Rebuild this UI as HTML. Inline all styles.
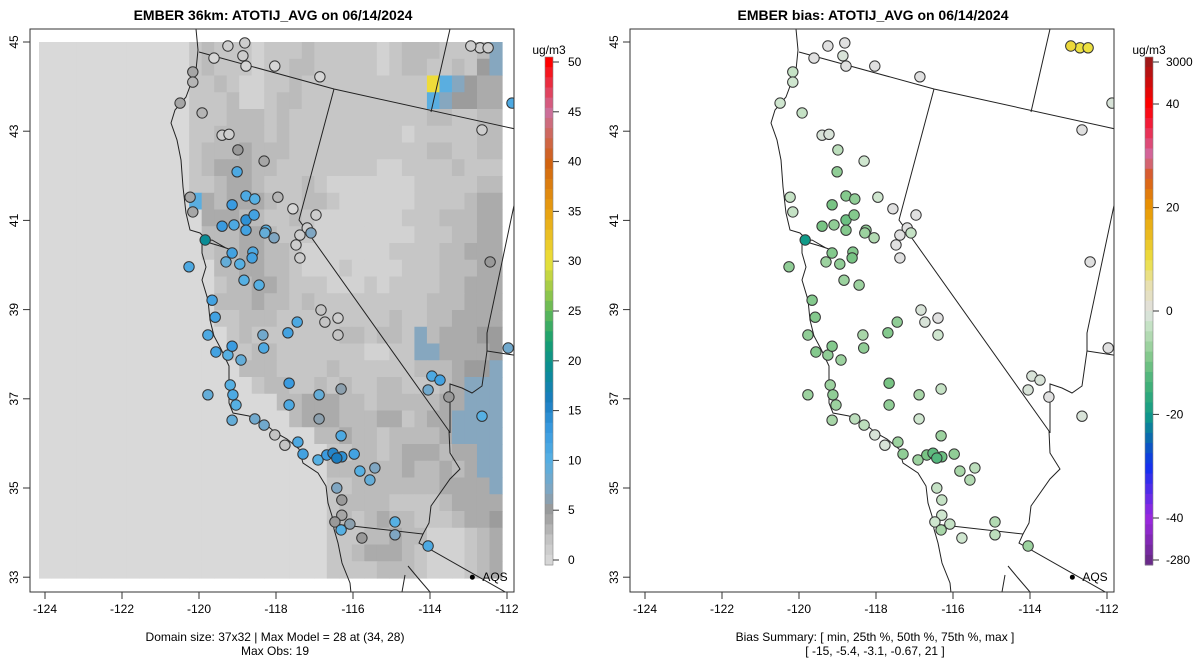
<!DOCTYPE html>
<html><head><meta charset="utf-8"><style>
body{margin:0;background:#fff;}
svg{display:block;font-family:"Liberation Sans",sans-serif;}
</style></head><body>
<svg id="chart" width="1200" height="672" viewBox="0 0 1200 672">
<defs>
<clipPath id="clipL"><rect x="30" y="29" width="484" height="563"/></clipPath>
</defs>
<g id="panelL"></g>
<g id="panelR"></g>
</svg>
<script>
// ---- data ----
const gridRows = [
"aaaaaaaaaaaacdcccbcccdcccccbcdddcccdgged",
"aaaaaaaaaaaacdcccbccddcccccbcddccdcfgfee",
"aaaaaaaaaaaaccdcbbccdccccccccccyhgfee",
"aaaaaaaaaaaacccdbbcddcccccccccchgffee",
"aaaaaaaaaaaacccdddcdcccccccccccddccd",
"aaaaaaaaaaaaccddddcdcccccccccbcccccd",
"aaaaaaaaaaaacdddedddcccccccccccddccd",
"aaaaaaaaaaaacdeeeddccccccccbbccccdcc",
"aaaaaaaaaaaaccdeedcccdcbbbbbbbcccccd",
"aaaaaaaaaaaahedeeedccddcbbbbbbccccdee",
"aaaaaaaaaaaaaeeeddccdcbbbbbbbcccdddee",
"aaaaaaaaaaaaadddeedcccbbbbbbbbcccddee",
"aaaaaaaaaaaaacddeeddcbbbbbbbccccddeee",
"aaaaaaaaaaaaaaddeeddcbbbcbbbbcccdddeee",
"aaaaaaaaaaaaaacddeedcccbbbcbccccddeee",
"aaaaaaaaaaaaaadddeddcdcccccccccdddeee",
"aaaaaaaaaaaaaaccdddcccccccccdccddeee",
"aaaaaaaaaaaaaaacdcccccccddcddcgdeeeffe",
"aaaaaaaaaaaaaaaccddcccccccbbccggeeeeff",
"aaaaaaaaaaaaaaaadddccccdccccccdddeffgff",
"aaaaaaaaaaaaaaaaacddccdcdccddcccdeggggf",
"aaaaaaaaaaaaaaaaaaaddeeeddcdddddeegggggf",
"aaaaaaaaaaaaaaaaaaaadeeedddeecdeeggggggf",
"aaaaaaaaaaaaaaaaaaaaaaddeddcddddeggggggf",
"aaaaaaaaaaaaaaaaaaaaaaaccddcdeeedeeggggg",
"aaaaaaaaaaaaaaaaaaaaaaaddddddeddedeggggf",
"aaaaaaaaaaaaaaaaaaaaaaaccdddddddeeeegggf",
"aaaaaaaaaaaaaaaaaaaaaaacddddccccdeeeefff",
"aaaaaaaaaaaaaaaaaaaaaaacdcdeddcccdeeffff",
"aaaaaaaaaaaaaaaaaaaaaaacccddeddbbbcdeeff",
"aaaaaaaaaaaaaaaaaaaaaaaccdeeedcbbbcdeeff",
"aaaaaaaaaaaaaaaaaaaaaaaccccdddcbbbcdefff"
];
const gridLevels = {a:"#d9d9d9",b:"#d2d2d2",c:"#c6c6c6",d:"#bbbbbb",e:"#ababab",f:"#9c9c9c",g:"#86a7bf",h:"#5aaee0",y:"#eedc3a"};

const siteLon = [-119.25,-118.81,-119.61,-118.86,-118.78,-118.03,-116.86,-120.16,-120.16,-119.92,-120.49,-119.40,-119.22,-118.99,-119.01,-118.31,-120.23,-120.16,-118.78,-118.55,-119.14,-118.78,-118.78,-119.40,-119.09,-117.95,-117.56,-118.26,-118.60,-118.62,-118.94,-118.83,-118.44,-118.29,-118.05,-119.14,-119.30,-118.57,-117.38,-117.48,-117.38,-117.19,-117.09,-116.96,-120.26,-119.84,-119.58,-119.66,-119.77,-119.56,-119.25,-118.91,-118.34,-118.32,-117.45,-117.69,-116.73,-116.83,-116.39,-116.39,-119.14,-119.19,-119.12,-119.77,-119.04,-119.14,-117.66,-117.66,-116.88,-116.31,-116.88,-118.55,-118.31,-118.03,-117.77,-117.43,-117.30,-116.91,-116.68,-116.52,-116.29,-116.42,-115.97,-116.31,-115.82,-115.56,-115.43,-116.42,-116.29,-116.29,-116.47,-116.08,-116.31,-115.77,-114.91,-114.91,-114.05,-113.95,-113.74,-114.05,-113.51,-112.44,-111.97,-111.87,-112.65,-112.70,-112.49,-112.94,-112.65];
const siteLat = [44.91,44.98,44.64,44.69,44.46,44.46,44.22,44.33,44.10,43.41,43.63,42.91,42.93,42.58,42.09,42.33,41.52,41.19,41.55,41.48,41.35,41.01,40.78,40.87,40.90,41.52,41.26,40.78,40.29,40.16,40.02,39.66,39.55,40.72,40.61,40.27,40.07,41.12,40.67,40.45,40.16,40.83,40.72,41.12,39.96,40.56,38.83,39.21,38.43,38.05,37.98,37.87,38.43,38.14,38.72,38.48,38.72,38.99,38.81,38.43,38.18,37.31,37.09,37.09,36.86,36.52,37.35,36.86,37.09,37.22,36.55,36.55,36.41,36.19,35.96,36.03,35.76,35.63,35.74,35.78,35.70,35.67,35.76,36.17,35.38,35.18,35.45,35.00,34.39,34.73,34.24,34.19,34.06,33.88,34.24,33.95,33.70,37.51,37.42,37.20,37.04,40.07,38.14,43.63,43.03,44.87,44.87,44.91,36.61];
const siteObs = [1,1,0,1,0,0,0,4,3,3,4,1,1,5,11,4,4,4,11,10,13,14,12,13,11,3,0,10,11,12,10,10,10,9,7,12,9,12,1,1,1,1,7,1,11,19,12,12,11,12,10,9,8,11,11,12,2,2,1,2,13,10,11,9,10,9,13,11,9,6,6,8,8,2,2,11,12,10,13,15,14,16,12,11,10,9,7,7,4,5,5,6,10,5,10,7,11,11,12,8,5,5,8,11,1,1,1,1,10];
const siteBias = [0,0,0,-1,0,0,0,-3,-2,-3,-2,-1,-1,-4,-8,-2,-3,-3,-9,-8,-10,-11,-9,-10,-8,-2,0,-8,-9,-10,-8,-7,-7,-7,-5,-9,-7,-9,0,0,0,0,-3,0,-8,-20,-9,-9,-8,-9,-8,-7,-6,-8,-8,-9,-1,-1,0,-2,-9,-7,-8,-7,-7,-6,-10,-8,-6,-3,-2,-4,-4,-1,-1,-7,-8,-7,-10,-12,-11,-13,-8,-7,-6,-5,-4,-3,-2,-3,-2,-3,-6,-2,-5,-4,-7,-1,-1,-1,0,0,0,-1,0,10,10,11,-1];
const lonTicks = [-124,-122,-120,-118,-116,-114,-112];
const latTicks = [33,35,37,39,41,43,45];
const obsCbTicks = [0,5,10,15,20,25,30,35,40,45,50];
const biasCbLabels = ["3000","40","20","0","-20","-40","-280"];
const biasCbValues = [3000,40,20,0,-20,-40,-280];

// ---- scales ----
const xOf = lon => 45 + (lon + 124) * 38.5;
const yOf = lat => 42 + (45 - lat) * 44.6;
const obsY = v => 560 - v * 9.96;
function biasY(v){
  if (v >= 40) return 104 - Math.min(1,(v-40)/2960)*42;
  if (v <= -40) return 518 + Math.min(1,(-40-v)/240)*42;
  return 311 - v * 5.17;
}
function lerpHex(a,b,t){
  const pa=[1,3,5].map(i=>parseInt(a.substr(i,2),16)), pb=[1,3,5].map(i=>parseInt(b.substr(i,2),16));
  return "rgb("+pa.map((x,i)=>Math.round(x+(pb[i]-x)*t)).join(",")+")";
}
function ramp(stops,v){
  if (v<=stops[0][0]) return stops[0][1];
  for (let i=1;i<stops.length;i++) if (v<=stops[i][0]){
    const t=(v-stops[i-1][0])/(stops[i][0]-stops[i-1][0]); return lerpHex(stops[i-1][1],stops[i][1],t);}
  return stops[stops.length-1][1];
}
const obsStops=[[0,"#d6d6d6"],[2,"#c4c4c4"],[4,"#a6a6a6"],[5,"#999999"],[7,"#7fa6c2"],[10,"#56b0e3"],[13,"#3a9be0"],[16,"#1a7cc0"],[19,"#0a8c95"],[22,"#17a070"],[26,"#7cc050"],[30,"#ece23a"],[35,"#e8a010"],[40,"#d06010"],[45,"#cc6f9c"],[50,"#ff0000"]];
const biasStops=[[-280,"#6a2a8a"],[-40,"#9a28e0"],[-30,"#1030f0"],[-24,"#0a70a8"],[-20,"#109a88"],[-15,"#3aae78"],[-10,"#78c484"],[-6,"#a8d6a8"],[-2,"#cfe6cf"],[0,"#e0e0e0"],[5,"#e8e0b0"],[10,"#ece040"],[20,"#e89400"],[26,"#d85a20"],[30,"#d06aa0"],[36,"#f02040"],[40,"#ff0000"],[3000,"#a01818"]];

const NS="http://www.w3.org/2000/svg";
function mk(parent,tag,attrs,text){
  const e=document.createElementNS(NS,tag);
  for(const k in attrs) e.setAttribute(k,attrs[k]);
  if(text!==undefined) e.textContent=text;
  parent.appendChild(e); return e;
}

const coast="M196,29 L198,50 L196,70 L186,97 L175,110 L171,123 L177,140 L181,160 L183,187 L186,213 L190,230 L200,233 L210,243 L220,246 L232,250 L226,248 L212,240 L202,242 L202,253 L206,267 L202,280 L208,300 L210,320 L214,336 L221,349 L229,366 L229,403 L233,413 L249,416 L264,423 L276,433 L287,439 L299,449 L303,463 L318,473 L326,486 L328,503 L332,516 L334,529 L338,543 L342,563 L350,583 L351,593";
const borders=[
 "M199,52 L334,89 L520,130",
 "M334,89 L299,220 L449,431",
 "M450,29 L431,112",
 "M520,177 L487,333 L487,351 L482,386 L472,393 L462,388 L450,384 L450,433",
 "M487,351 L520,356",
 "M449,431 L450,453 L460,469 L450,479 L431,506 L429,523 L423,534",
 "M334,524 L423,534 L419,543 L507,593",
 "M408,566 L418,578 L430,592",
 "M402,592 L405,575"
];

function buildPanel(g, isBias){
  const off = isBias ? 600 : 0;
  const title = isBias ? "EMBER bias: ATOTIJ_AVG on 06/14/2024" : "EMBER 36km: ATOTIJ_AVG on 06/14/2024";
  const t=mk(g,"text",{x:273+off,y:20,"text-anchor":"middle","font-size":"14","font-weight":"bold"},title);
   
  const plot=mk(g,"g",{transform:"translate("+off+",0)","clip-path":"url(#clipL)"});
   
  if(!isBias){
    const cw=463/37, ch=(578-42)/32;
    gridRows.forEach((row,r)=>{
      for(let c=0;c<37;c++){
        const k=row[c]||row[row.length-1];
        const cell=mk(plot,"rect",{x:(39+c*cw).toFixed(2),y:(42+r*ch).toFixed(2),width:(cw+0.6).toFixed(2),height:(ch+0.6).toFixed(2),fill:gridLevels[k]});
         
      }
    });
  }
  const cl=mk(plot,"path",{d:coast,fill:"none",stroke:"#222","stroke-width":"1"});
   
  borders.forEach(d=>{const b=mk(plot,"path",{d:d,fill:"none",stroke:"#222","stroke-width":"1"});
     });
  siteLon.forEach((lon,i)=>{
    const fill = isBias ? ramp(biasStops,siteBias[i]) : ramp(obsStops,siteObs[i]);
    const c=mk(plot,"circle",{cx:xOf(lon).toFixed(1),cy:yOf(siteLat[i]).toFixed(1),r:"5.2",fill:fill,stroke:"#333","stroke-width":"1"});
     
  });
  const aq=mk(plot,"circle",{cx:xOf(-112.9),cy:yOf(33.0),r:"2.5",fill:"#000"});
   
  const aqt=mk(plot,"text",{x:xOf(-112.9)+10,y:yOf(33.0)+4,"font-size":"12"},"AQS");
   
  const fr=mk(g,"rect",{x:30+off,y:29,width:484,height:563,fill:"none",stroke:"#333","stroke-width":"1"});
   
  lonTicks.forEach(v=>{
    const x=xOf(v)+off;
    mk(g,"line",{x1:x,x2:x,y1:592,y2:599,stroke:"#333"});
    const l=mk(g,"text",{x:x,y:613,"text-anchor":"middle","font-size":"12"},String(v));
     
  });
  latTicks.forEach(v=>{
    const y=yOf(v);
    mk(g,"line",{x1:30+off,x2:23+off,y1:y,y2:y,stroke:"#333"});
    const l=mk(g,"text",{x:0,y:0,"text-anchor":"middle","font-size":"12",transform:"translate("+(18+off)+","+y+") rotate(-90)"},String(v));
     
  });
  const f1 = isBias ? "Bias Summary: [ min, 25th %, 50th %, 75th %, max ]" : "Domain size: 37x32 | Max Model = 28 at (34, 28)";
  const f2 = isBias ? "[ -15,   -5.4,   -3.1,   -0.67,   21 ]" : "Max Obs: 19";
  const n1=mk(g,"text",{x:275+off,y:641,"text-anchor":"middle","font-size":"12","xml:space":"preserve"},f1);
   
  const n2=mk(g,"text",{x:275+off,y:655,"text-anchor":"middle","font-size":"12","xml:space":"preserve"},f2);
   
  const cb=mk(g,"g",{});
   
  const cx=545+off;
  const u=mk(cb,"text",{x:cx+4,y:54,"text-anchor":"middle","font-size":"12"},"ug/m3");
   
  const N=50;
  for(let i=0;i<N;i++){
    const y0=57+i*(508/N);
    let col;
    if(!isBias){ col=ramp(obsStops, 50.5 - (y0-57+5)/9.96); }
    else {
      const yy=y0+5; let best=0,bd=1e9;
      for(let v=-280;v<=3000;v+= (v<-40||v>40)?10:0.5){const d=Math.abs(biasY(v)-yy); if(d<bd){bd=d;best=v;}}
      col=ramp(biasStops,best);
    }
    mk(cb,"rect",{x:cx,y:y0.toFixed(2),width:8,height:(508/N+0.5).toFixed(2),fill:col});
  }
  mk(cb,"rect",{x:cx,y:57,width:8,height:508,fill:"none",stroke:"#888","stroke-width":"0.6"});
  if(!isBias){
    obsCbTicks.forEach(v=>{const y=obsY(v);
      mk(cb,"line",{x1:cx+8,x2:cx+14,y1:y,y2:y,stroke:"#333"});
      const l=mk(cb,"text",{x:cx+23,y:y+4,"font-size":"12"},String(v));
       });
  } else {
    biasCbValues.forEach((v,i)=>{const y=biasY(v);
      mk(cb,"line",{x1:cx+8,x2:cx+14,y1:y,y2:y,stroke:"#333"});
      const l=mk(cb,"text",{x:cx+21,y:y+4,"font-size":"12"},biasCbLabels[i]);
       });
  }
}
buildPanel(document.getElementById("panelL"), false);
buildPanel(document.getElementById("panelR"), true);
</script>
</body></html>
